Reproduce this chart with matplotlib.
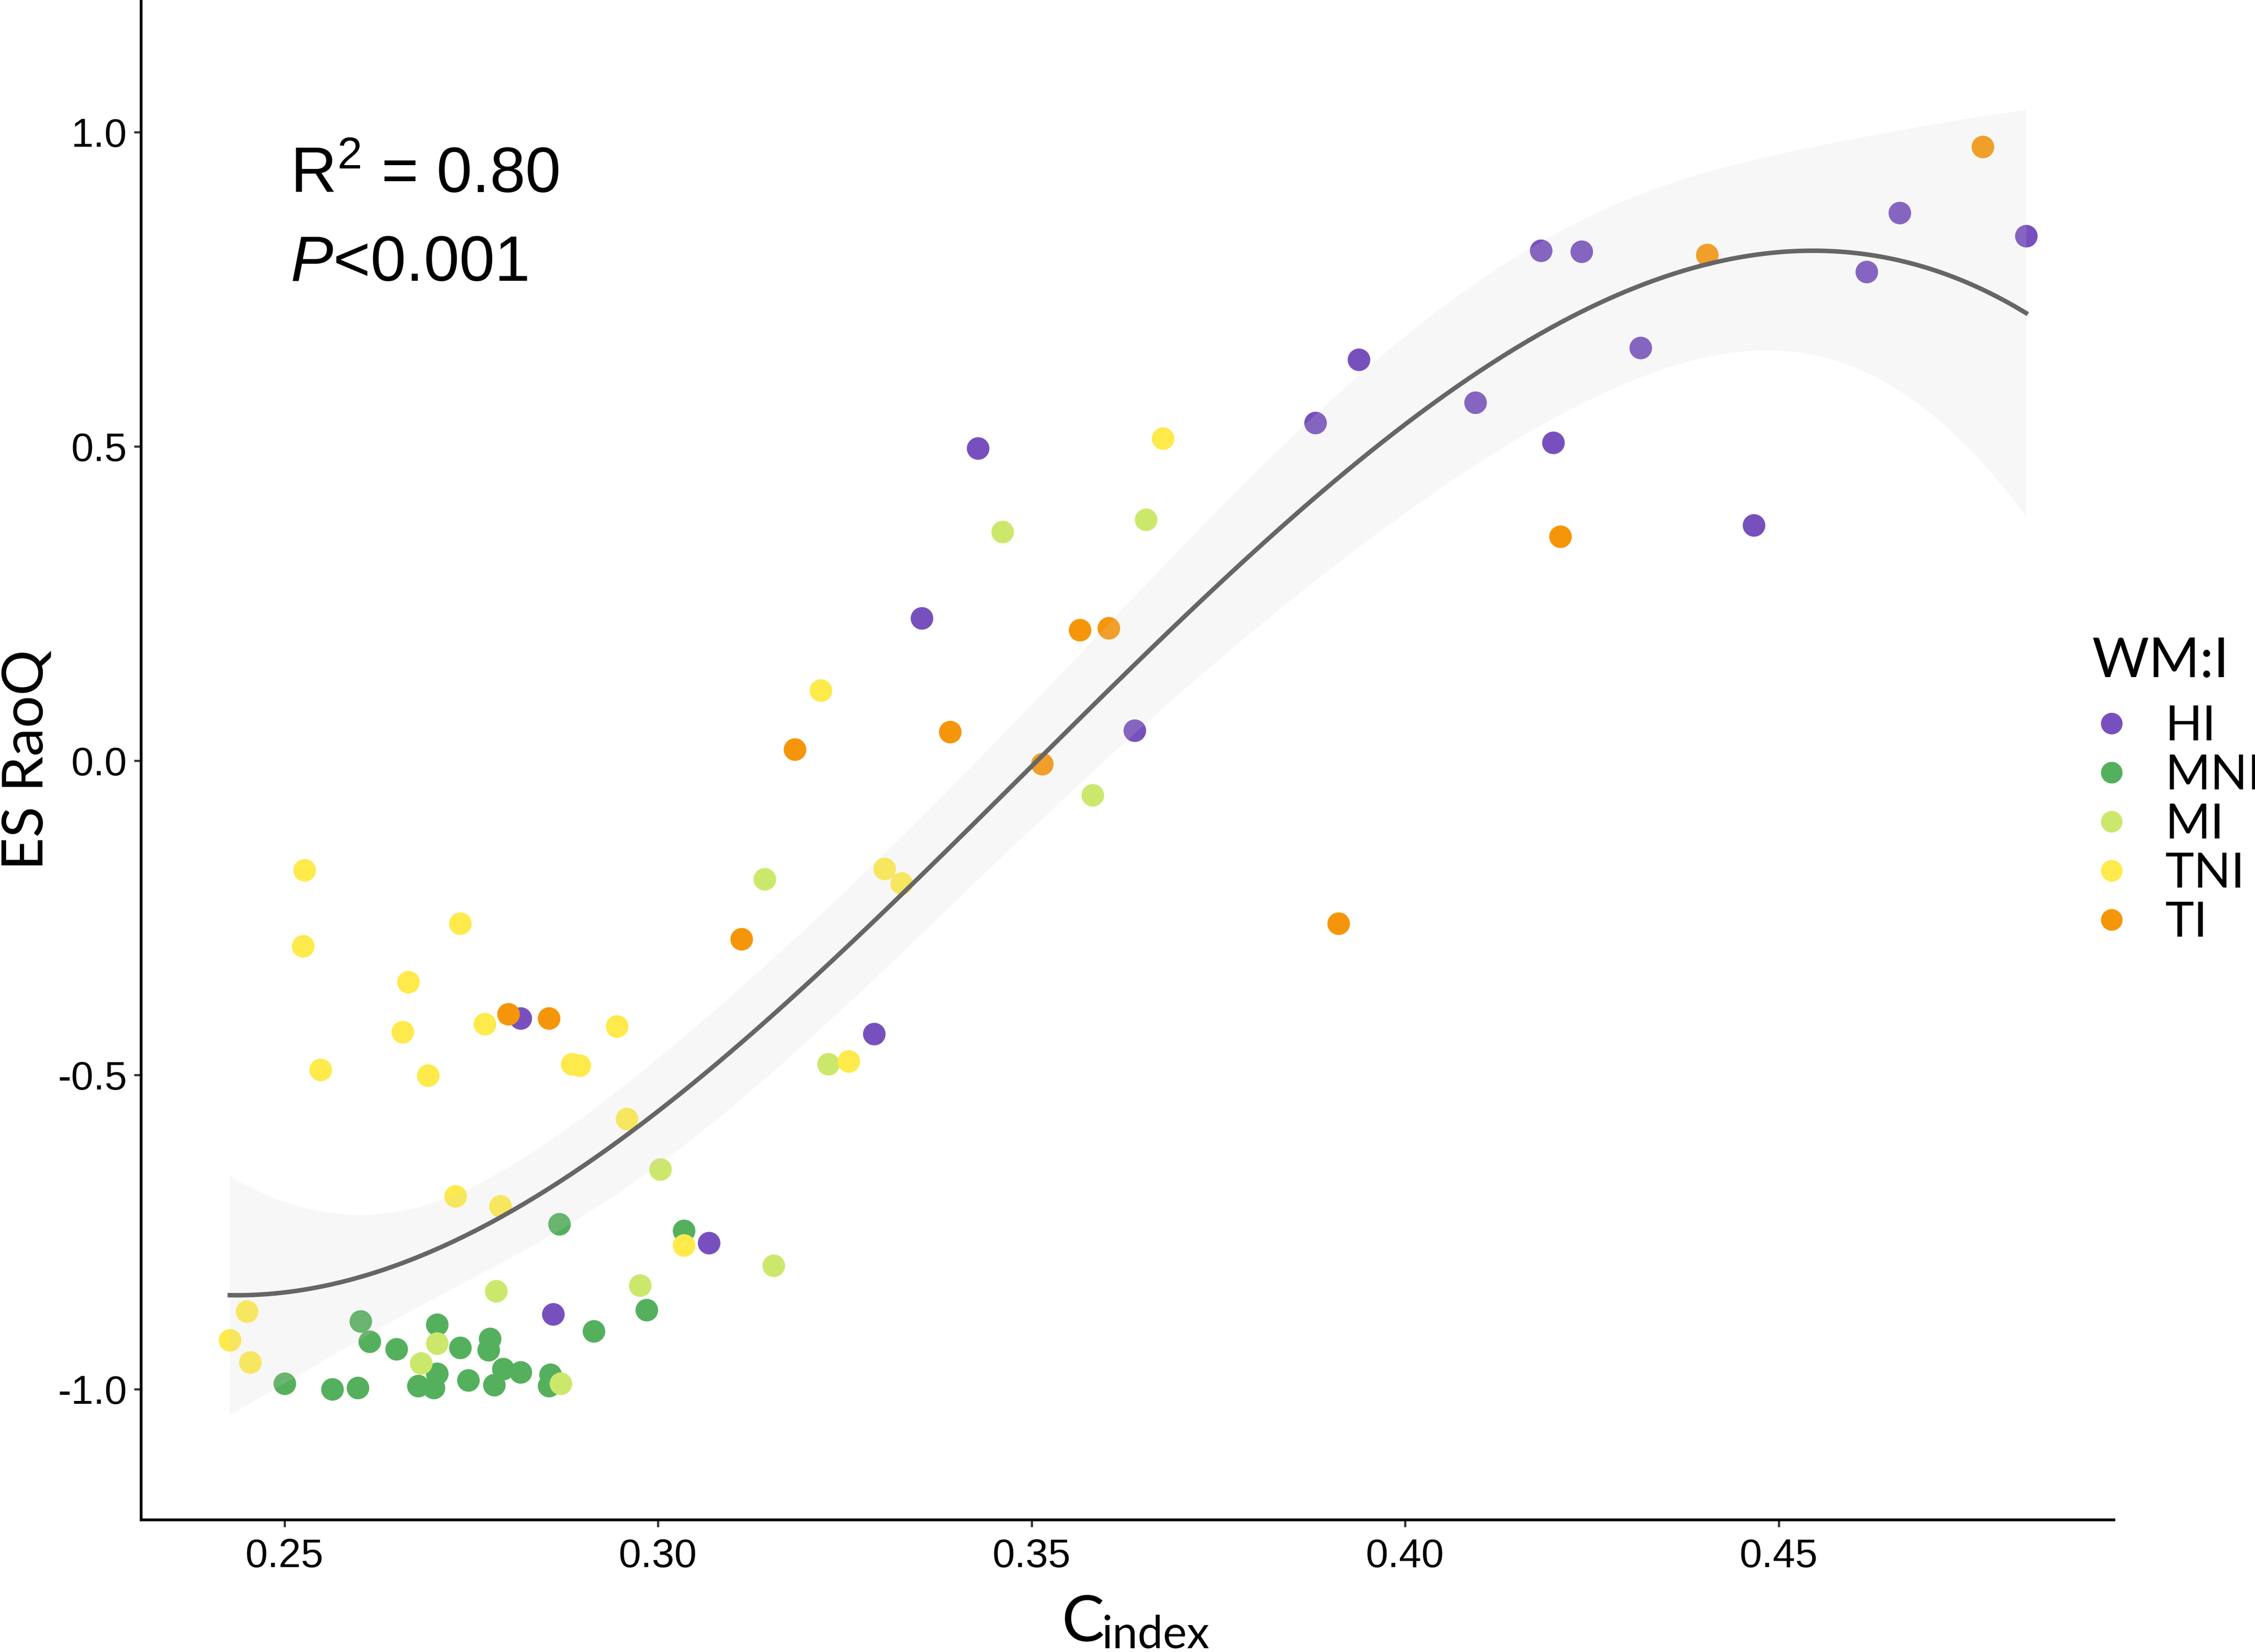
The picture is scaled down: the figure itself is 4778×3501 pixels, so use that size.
import numpy as np
import matplotlib
matplotlib.use("Agg")
import matplotlib.pyplot as plt
from matplotlib.lines import Line2D
from matplotlib.ticker import FormatStrFormatter

plt.rcParams['font.family'] = ['Liberation Sans', 'DejaVu Sans']
plt.rcParams['axes.unicode_minus'] = False
plt.rcParams['mathtext.fontset'] = 'custom'
plt.rcParams['mathtext.rm'] = 'Liberation Sans'
plt.rcParams['mathtext.it'] = 'Liberation Sans:italic'

# values (C index, ES RaoQ) for each WM:I group
groups = ["HI", "MNI", "MI", "TNI", "TI"]
colors = ["#7850BE", "#55B05D", "#CCE86C", "#FEEA4A", "#F5960A"]

hi_x = [0.4831, 0.4662, 0.4618, 0.4236, 0.4182, 0.4315, 0.3938, 0.3880, 0.4094,
        0.4198, 0.4467, 0.3428, 0.3353, 0.3638, 0.3289, 0.2816, 0.3068, 0.2860]
hi_y = [0.835, 0.872, 0.778, 0.810, 0.812, 0.657, 0.638, 0.538, 0.570,
        0.506, 0.375, 0.497, 0.227, 0.048, -0.435, -0.410, -0.767, -0.881]

mni_x = [0.2868, 0.3035, 0.2985, 0.2914, 0.2602, 0.2614, 0.2650, 0.2704, 0.2735,
         0.2775, 0.2773, 0.2704, 0.2679, 0.2700, 0.2746, 0.2793, 0.2816, 0.2781,
         0.2856, 0.2854, 0.2598, 0.2564, 0.2500]
mni_y = [-0.737, -0.748, -0.874, -0.908, -0.892, -0.924, -0.936, -0.897, -0.934,
         -0.920, -0.938, -0.975, -0.995, -0.998, -0.986, -0.968, -0.973, -0.993,
         -0.977, -0.995, -0.998, -1.000, -0.991]

mi_x = [0.3653, 0.3461, 0.3582, 0.3143, 0.3228, 0.3003, 0.3155, 0.2976, 0.2783,
        0.2704, 0.2683, 0.2870]
mi_y = [0.384, 0.364, -0.055, -0.188, -0.483, -0.650, -0.803, -0.835, -0.844,
        -0.927, -0.959, -0.991]

tni_x = [0.3676, 0.3218, 0.3303, 0.3326, 0.2527, 0.2525, 0.2735, 0.2666, 0.2658,
         0.2548, 0.2692, 0.2768, 0.2945, 0.2885, 0.2895, 0.3255, 0.2958, 0.2729,
         0.2789, 0.3035, 0.2450, 0.2427, 0.2454]
tni_y = [0.513, 0.112, -0.172, -0.195, -0.174, -0.295, -0.259, -0.352, -0.432,
         -0.492, -0.501, -0.419, -0.423, -0.483, -0.485, -0.478, -0.570, -0.693,
         -0.709, -0.771, -0.876, -0.922, -0.957]

ti_x = [0.4773, 0.4404, 0.4208, 0.3911, 0.3565, 0.3603, 0.3391, 0.3183, 0.3514,
        0.3112, 0.2800, 0.2854]
ti_y = [0.977, 0.805, 0.357, -0.259, 0.208, 0.211, 0.046, 0.018, -0.005,
        -0.284, -0.403, -0.410]

xs = [hi_x, mni_x, mi_x, tni_x, ti_x]
ys = [hi_y, mni_y, mi_y, tni_y, ti_y]

# cubic lm fit with 95% band, like geom_smooth(method = "lm", formula = y ~ poly(x, 3))
x_all = np.concatenate([np.array(v) for v in xs])
y_all = np.concatenate([np.array(v) for v in ys])
xc = x_all.mean()
X = np.vander(x_all - xc, 4)
beta = np.linalg.lstsq(X, y_all, rcond=None)[0]
resid = y_all - X @ beta
s2 = resid @ resid / (len(x_all) - 4)
cov = s2 * np.linalg.inv(X.T @ X)
grid = np.linspace(x_all.min(), x_all.max(), 300)
G = np.vander(grid - xc, 4)
fit = G @ beta
se = np.sqrt(np.einsum('ij,jk,ik->i', G, cov, G))
t_crit = 1.986

fig = plt.figure(figsize=(4778 / 300, 3501 / 300), dpi=300)
ax = fig.add_axes([0.0625, 0.080, 0.875, 0.920])

for gx, gy, c in zip(xs, ys, colors):
    ax.scatter(gx, gy, s=132, color=c, linewidths=0, zorder=2)

ax.fill_between(grid, fit - t_crit * se, fit + t_crit * se,
                color="#D3D3D3", alpha=0.16, linewidth=0, zorder=3)
ax.plot(grid, fit, color="#666666", linewidth=2.3, zorder=4)

ax.set_xlim(0.2308, 0.4949)
ax.set_ylim(-1.208, 1.2105)
ax.set_xticks([0.25, 0.30, 0.35, 0.40, 0.45])
ax.set_yticks([-1.0, -0.5, 0.0, 0.5, 1.0])
ax.xaxis.set_major_formatter(FormatStrFormatter('%.2f'))
ax.yaxis.set_major_formatter(FormatStrFormatter('%.1f'))

for side in ['top', 'right']:
    ax.spines[side].set_visible(False)
for side in ['left', 'bottom']:
    ax.spines[side].set_linewidth(1.4)
    ax.spines[side].set_color('black')
ax.tick_params(axis='both', length=3.6, width=1.1, color='#333333',
               labelsize=20.5, labelcolor='black')
ax.tick_params(axis='x', pad=5.5)
ax.tick_params(axis='y', pad=3.5)

ax.text(0.2508, 0.904, r"R$^{2}$ = 0.80", fontsize=32.5, va='baseline', ha='left')
ax.text(0.2508, 0.764, r"$\mathit{P}$<0.001", fontsize=32.5, va='baseline', ha='left')

# axis titles
fig.text(0.4709, 0.0065, "C", family='Lato', fontsize=32.5, ha='left', va='baseline')
fig.text(0.4887, 0.0025, "index", family='Lato', fontsize=23, ha='left', va='baseline')
fig.text(0.0190, 0.54, "ES RaoQ", family='Lato', fontsize=29, rotation=90,
         rotation_mode='anchor', ha='center', va='baseline')

# legend: title placed on its own, keys below
fig.text(0.9276, 0.590, "WM:I", family='Lato', fontsize=28, ha='left', va='baseline')
handles = [Line2D([], [], marker='o', linestyle='none', markersize=11,
                  markerfacecolor=c, markeredgewidth=0) for c in colors]
leg = ax.legend(handles, groups, loc='center left',
                bbox_to_anchor=(0.9255, 0.5007), bbox_transform=fig.transFigure,
                frameon=False, borderpad=0, borderaxespad=0,
                handlelength=1.0, handletextpad=0.6, labelspacing=0.095,
                prop={'family': 'Lato', 'size': 24.8})

fig.savefig("out.png", dpi=300)
